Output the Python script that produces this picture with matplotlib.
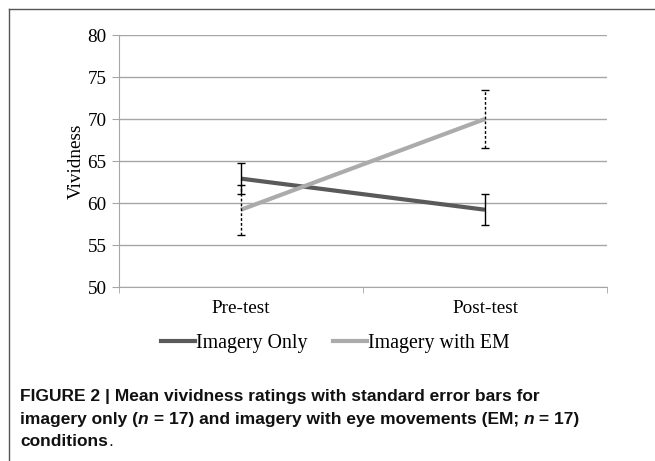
import matplotlib
matplotlib.use("Agg")
import matplotlib.pyplot as plt
from matplotlib.lines import Line2D

categories = ["Pre-test", "Post-test"]
series_names = ["Imagery Only", "Imagery with EM"]
imagery_only = [62.9, 59.2]
imagery_only_se = [1.85, 1.85]
imagery_em = [59.2, 70.0]
imagery_em_se = [2.95, 3.5]
yticks = [50, 55, 60, 65, 70, 75, 80]

W, H = 655, 461
fig = plt.figure(figsize=(W / 100, H / 100), dpi=100)

def px(x, y):
    return x / W, 1 - y / H

FS = 13.8
LFS = 14.3
serif = "Liberation Serif"
l, r, t, b = 119, 607, 35, 287
ax = fig.add_axes([l / W, 1 - b / H, (r - l) / W, (b - t) / H])
xs = list(range(len(categories)))

ax.set_ylim(50, 80)
ax.set_xlim(-0.5, len(categories) - 0.5)
ax.set_yticks(yticks)
ax.set_yticklabels([str(v) for v in yticks], fontfamily=serif, fontsize=FS)
ax.yaxis.grid(True, color="#a6a6a6", linewidth=1.0)
ax.set_axisbelow(True)
for s in ["top", "right"]:
    ax.spines[s].set_visible(False)
ax.spines["left"].set_color("#a6a6a6")
ax.spines["bottom"].set_color("#a6a6a6")
ax.tick_params(axis="y", direction="out", length=5, color="#a6a6a6", pad=4)
ax.set_xticks(xs)
ax.set_xticklabels(categories, fontfamily=serif, fontsize=FS)
ax.tick_params(axis="x", length=0, pad=9)
ax.set_xticks([-0.5, 0.5, 1.5], minor=True)
ax.tick_params(axis="x", which="minor", direction="out", length=4, color="#a6a6a6")
ax.set_ylabel("Vividness", fontfamily=serif, fontsize=FS, labelpad=2)

dark = "#5a5a5a"
light = "#ababab"
ax.plot(xs, imagery_only, color=dark, linewidth=3, solid_capstyle="butt", zorder=3)
ax.plot(xs, imagery_em, color=light, linewidth=3, solid_capstyle="butt", zorder=3)
ax.errorbar(xs, imagery_only, yerr=imagery_only_se, fmt="none", ecolor="black",
            elinewidth=1, capsize=2.8, capthick=1, zorder=4)
eb = ax.errorbar(xs, imagery_em, yerr=imagery_em_se, fmt="none", ecolor="black",
                 elinewidth=1, capsize=2.8, capthick=1, zorder=4)
for lc in eb[2]:
    lc.set_linestyle((0, (2, 1.5)))

handles = [Line2D([], [], color=dark, linewidth=3),
           Line2D([], [], color=light, linewidth=3)]
leg = fig.legend(handles, series_names, loc="center", bbox_to_anchor=px(335, 343),
                 ncol=2, frameon=False, prop={"family": serif, "size": LFS},
                 handlelength=1.7, handletextpad=0.05, columnspacing=1.3,
                 borderpad=0, borderaxespad=0)

# frame
fig.add_artist(Line2D([9 / W, 1], [1 - 9 / H] * 2, color="#555555", linewidth=1.0))
fig.add_artist(Line2D([9 / W] * 2, [1 - 9 / H, 0], color="#555555", linewidth=1.0))

# caption
cap_family = ["Liberation Sans", "DejaVu Sans"]
fig.canvas.draw()
renderer = fig.canvas.get_renderer()

def draw_line(pieces, x0, y0, weight="bold"):
    x = x0
    for txt, style in pieces:
        t_ = fig.text(x / W, 1 - y0 / H, txt, fontsize=12.5, fontweight=weight,
                      fontstyle=style, family=cap_family, va="baseline", ha="left",
                      color="#111111")
        bb = t_.get_window_extent(renderer=renderer)
        x += bb.width
    return x

draw_line([("FIGURE 2 | Mean vividness ratings with standard error bars for", "normal")], 20, 401)
draw_line([("imagery only (", "normal"), ("n", "italic"),
           (" = 17) and imagery with eye movements (EM; ", "normal"),
           ("n", "italic"), (" = 17)", "normal")], 20, 424)
xe = draw_line([("conditions", "normal")], 20, 446)
draw_line([(".", "normal")], xe, 446, weight="normal")

fig.savefig("out.png", dpi=100)
